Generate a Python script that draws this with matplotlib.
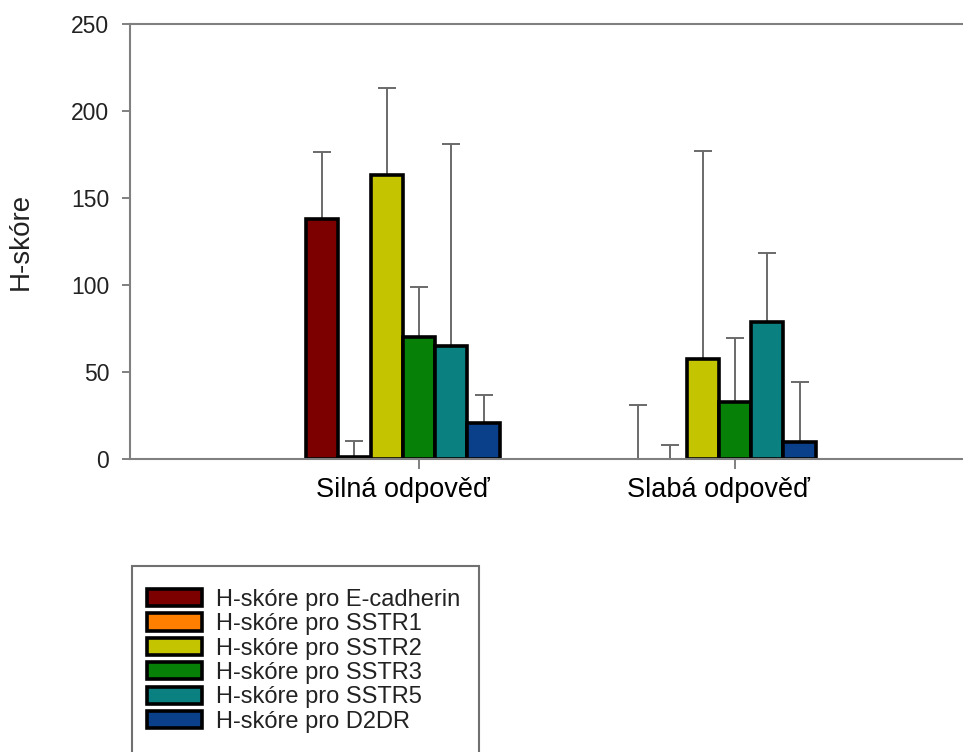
import numpy as np
import matplotlib
matplotlib.use("Agg")
import matplotlib.pyplot as plt
from matplotlib.patches import Rectangle

plt.rcParams['font.family'] = ['Liberation Sans', 'DejaVu Sans']

# data
groups = ["Silná odpověď", "Slabá odpověď"]
series = ["H-skóre pro E-cadherin", "H-skóre pro SSTR1", "H-skóre pro SSTR2",
          "H-skóre pro SSTR3", "H-skóre pro SSTR5", "H-skóre pro D2DR"]
colors = ["#7c0000", "#ff8000", "#c4c400", "#068006", "#0a8080", "#0a3f8a"]

silna = [138, 1, 163, 70, 65, 20.5]
silna_err = [38.5, 9.5, 50, 29, 116, 16]
slaba = [0, 0, 57.5, 33, 78.5, 10]
slaba_err = [31, 8, 119.5, 36.5, 40, 34.5]

means = np.array([silna, slaba])
errs = np.array([silna_err, slaba_err])

W, H = 963, 752
fig = plt.figure(figsize=(W / 100, H / 100), dpi=100)
ax = fig.add_axes([130 / W, 1 - 459 / H, 833 / W, 435 / H])

w = 0.1022          # one slot, 7 slots per group (last one empty)
x = np.arange(len(groups))

for i, name in enumerate(series):
    pos = x + (i - 3) * w
    ax.errorbar(pos, means[:, i], yerr=[np.zeros(len(groups)), errs[:, i]],
                fmt='none', ecolor='#6a6a6a', elinewidth=1.4, capsize=6.5,
                capthick=1.4, zorder=1)
    bars = ax.bar(pos, means[:, i], width=w, color=colors[i], edgecolor='black',
                  linewidth=2.6, label=name, zorder=2)
    for b in bars:
        if b.get_height() == 0:
            b.set_visible(False)

ax.set_xlim(-0.9146, 1.7215)
ax.set_ylim(0, 250)
ax.set_yticks([0, 50, 100, 150, 200, 250])

# labels sit under the six bars, tick marks at group centre
ax.set_xticks(x - 0.5 * w)
ax.set_xticklabels(groups)
ax.set_xticks(x, minor=True)
ax.tick_params(axis='x', which='major', length=0, pad=13, labelsize=19.5, labelcolor='black')
ax.tick_params(axis='x', which='minor', length=7, width=1.4, color='#808080', direction='out')
ax.tick_params(axis='y', length=6, width=1.4, color='#808080', pad=9, labelsize=16.5,
               labelcolor='#222222')

ax.set_ylabel("H-skóre", fontsize=20, color='#222222')
ax.yaxis.set_label_coords(-0.116, 0.5)

for s in ['left', 'bottom', 'top']:
    ax.spines[s].set_color('#808080')
    ax.spines[s].set_linewidth(1.5)
ax.spines['right'].set_visible(False)

# legend box runs off the bottom of the picture
leg = fig.legend(loc='upper left', bbox_to_anchor=(147 / W, 1 - 589 / H),
                 fontsize=17, frameon=False, borderaxespad=0, borderpad=0,
                 handlelength=2.33, handleheight=0.75, handletextpad=0.6,
                 labelspacing=0.1)
for t in leg.get_texts():
    t.set_color('#222222')
fig.add_artist(Rectangle((131.7 / W, -0.05), (479 - 131.7) / W, 1 - 566 / H + 0.05,
                         transform=fig.transFigure, fill=False, edgecolor='#707070',
                         linewidth=1.5, clip_on=False))

fig.savefig("out.png", dpi=100)
